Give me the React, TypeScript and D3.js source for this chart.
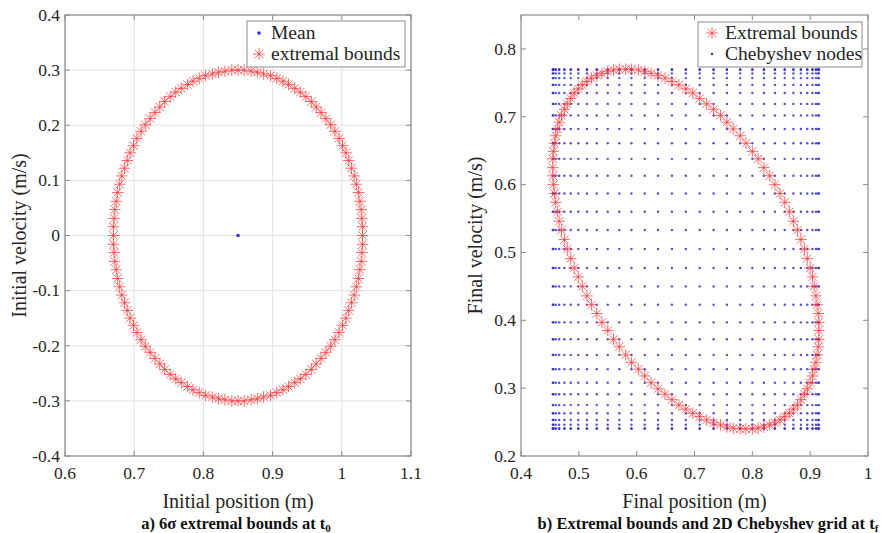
import React from "react";
import * as d3 from "d3";

// ---------- DATA ----------
const leftXTicks = [0.6, 0.7, 0.8, 0.9, 1.0, 1.1];
const leftYTicks = [-0.4, -0.3, -0.2, -0.1, 0, 0.1, 0.2, 0.3, 0.4];
const rightXTicks = [0.4, 0.5, 0.6, 0.7, 0.8, 0.9, 1.0];
const rightYTicks = [0.2, 0.3, 0.4, 0.5, 0.6, 0.7, 0.8];

const meanPoint = [0.85, 0];

const initBoundX = [
  1.030, 1.030, 1.029, 1.028, 1.026, 1.024, 1.021, 1.018, 1.014, 1.010, 1.006, 1.001, 0.996, 0.990, 0.984, 0.977, 0.970, 0.963, 0.956, 0.948, 0.940, 0.932, 0.923, 0.915, 0.906, 0.897, 0.887, 0.878, 0.869, 0.859,
  0.850, 0.841, 0.831, 0.822, 0.813, 0.803, 0.794, 0.785, 0.777, 0.768, 0.760, 0.752, 0.744, 0.737, 0.730, 0.723, 0.716, 0.710, 0.704, 0.699, 0.694, 0.690, 0.686, 0.682, 0.679, 0.676, 0.674, 0.672, 0.671, 0.670,
  0.670, 0.670, 0.671, 0.672, 0.674, 0.676, 0.679, 0.682, 0.686, 0.690, 0.694, 0.699, 0.704, 0.710, 0.716, 0.723, 0.730, 0.737, 0.744, 0.752, 0.760, 0.768, 0.777, 0.785, 0.794, 0.803, 0.813, 0.822, 0.831, 0.841,
  0.850, 0.859, 0.869, 0.878, 0.887, 0.897, 0.906, 0.915, 0.923, 0.932, 0.940, 0.948, 0.956, 0.963, 0.970, 0.977, 0.984, 0.990, 0.996, 1.001, 1.006, 1.010, 1.014, 1.018, 1.021, 1.024, 1.026, 1.028, 1.029, 1.030,
];
const initBoundY = [
  0, 0.016, 0.031, 0.047, 0.062, 0.078, 0.093, 0.108, 0.122, 0.136, 0.150, 0.163, 0.176, 0.189, 0.201, 0.212, 0.223, 0.233, 0.243, 0.252, 0.260, 0.267, 0.274, 0.280, 0.285, 0.290, 0.293, 0.296, 0.298, 0.300,
  0.300, 0.300, 0.298, 0.296, 0.293, 0.290, 0.285, 0.280, 0.274, 0.267, 0.260, 0.252, 0.243, 0.233, 0.223, 0.212, 0.201, 0.189, 0.176, 0.163, 0.150, 0.136, 0.122, 0.108, 0.093, 0.078, 0.062, 0.047, 0.031, 0.016,
  0, -0.016, -0.031, -0.047, -0.062, -0.078, -0.093, -0.108, -0.122, -0.136, -0.150, -0.163, -0.176, -0.189, -0.201, -0.212, -0.223, -0.233, -0.243, -0.252, -0.260, -0.267, -0.274, -0.280, -0.285, -0.290, -0.293, -0.296, -0.298, -0.300,
  -0.300, -0.300, -0.298, -0.296, -0.293, -0.290, -0.285, -0.280, -0.274, -0.267, -0.260, -0.252, -0.243, -0.233, -0.223, -0.212, -0.201, -0.189, -0.176, -0.163, -0.150, -0.136, -0.122, -0.108, -0.093, -0.078, -0.062, -0.047, -0.031, -0.016,
];

const finalBoundX = [
  0.915, 0.915, 0.914, 0.912, 0.910, 0.907, 0.904, 0.900, 0.895, 0.890, 0.884, 0.878, 0.871, 0.864, 0.856, 0.848, 0.839, 0.830, 0.820, 0.810, 0.800, 0.789, 0.779, 0.767, 0.756, 0.745, 0.733, 0.721, 0.709, 0.697,
  0.685, 0.673, 0.661, 0.649, 0.637, 0.625, 0.614, 0.603, 0.591, 0.581, 0.570, 0.560, 0.550, 0.540, 0.531, 0.522, 0.514, 0.506, 0.499, 0.492, 0.486, 0.480, 0.475, 0.470, 0.466, 0.463, 0.460, 0.458, 0.456, 0.455,
  0.455, 0.455, 0.456, 0.458, 0.460, 0.463, 0.466, 0.470, 0.475, 0.480, 0.486, 0.492, 0.499, 0.506, 0.514, 0.522, 0.531, 0.540, 0.550, 0.560, 0.570, 0.581, 0.591, 0.603, 0.614, 0.625, 0.637, 0.649, 0.661, 0.673,
  0.685, 0.697, 0.709, 0.721, 0.733, 0.745, 0.756, 0.767, 0.779, 0.789, 0.800, 0.810, 0.820, 0.830, 0.839, 0.848, 0.856, 0.864, 0.871, 0.878, 0.884, 0.890, 0.895, 0.900, 0.904, 0.907, 0.910, 0.912, 0.914, 0.915,
];
const finalBoundY = [
  0.385, 0.397, 0.410, 0.423, 0.436, 0.450, 0.464, 0.477, 0.491,
  0.505, 0.519, 0.533, 0.546, 0.560, 0.574, 0.587, 0.600, 0.613, 0.625, 0.638, 0.649, 0.661, 0.672, 0.682, 0.692, 0.702, 0.711, 0.719, 0.727, 0.735, 0.741, 0.747, 0.752, 0.757, 0.761, 0.764, 0.767, 0.769, 0.770,
  0.770, 0.770, 0.769, 0.767, 0.764, 0.761, 0.757, 0.752, 0.747, 0.741, 0.735, 0.727, 0.719, 0.711, 0.702, 0.692, 0.682, 0.672, 0.661, 0.649, 0.638, 0.625, 0.613, 0.600, 0.587, 0.574, 0.560, 0.546, 0.533, 0.519,
  0.505, 0.491, 0.477, 0.464, 0.450, 0.436, 0.423, 0.410, 0.397, 0.385, 0.372, 0.361, 0.349, 0.338, 0.328, 0.318, 0.308, 0.299, 0.291, 0.283, 0.275, 0.269, 0.263, 0.258, 0.253, 0.249, 0.246, 0.243, 0.241, 0.240,
  0.240, 0.240, 0.241, 0.243, 0.246, 0.249, 0.253, 0.258, 0.263, 0.269, 0.275, 0.283, 0.291, 0.299, 0.308, 0.318, 0.328, 0.338, 0.349, 0.361, 0.372,
];

const chebNodesX = [0.455, 0.456, 0.460, 0.466, 0.475, 0.486, 0.499, 0.514, 0.531, 0.550, 0.570, 0.591, 0.614, 0.637, 0.661, 0.685, 0.709, 0.733, 0.756, 0.779, 0.800, 0.820, 0.839, 0.856, 0.871, 0.884, 0.895, 0.904, 0.910, 0.914, 0.915];
const chebNodesY = [0.240, 0.241, 0.246, 0.253, 0.263, 0.275, 0.291, 0.308, 0.328, 0.349, 0.372, 0.397, 0.423, 0.450, 0.477, 0.505, 0.533, 0.560, 0.587, 0.613, 0.638, 0.661, 0.682, 0.702, 0.719, 0.735, 0.747, 0.757, 0.764, 0.769, 0.770];

// ---------- STYLE ----------
const SERIF = "'Liberation Serif', 'Times New Roman', serif";
const RED = "#ff3030";
const BLUE = "#3030c8";
const FRAME = "#8c8c8c";
const TEXT = "#262626";

const fmt = (v: number) => String(+v.toFixed(2));

function Star({ x, y, r = 5.8 }: { x: number; y: number; r?: number }) {
  const d = r * 0.72;
  return (
    <path
      d={`M${x - r},${y}H${x + r}M${x},${y - r}V${y + r}M${x - d},${y - d}L${x + d},${y + d}M${x - d},${y + d}L${x + d},${y - d}`}
      stroke={RED}
      strokeWidth={0.8}
      strokeOpacity={0.9}
      fill="none"
    />
  );
}

type PanelProps = {
  x0: number; x1: number; y0: number; y1: number;
  xDomain: [number, number]; yDomain: [number, number];
  xTicks: number[]; yTicks: number[];
  grid: boolean; xLabel: string; yLabel: string;
  children: (sx: d3.ScaleLinear<number, number>, sy: d3.ScaleLinear<number, number>) => React.ReactNode;
};

function Panel(p: PanelProps) {
  const sx = d3.scaleLinear().domain(p.xDomain).range([p.x0, p.x1]);
  const sy = d3.scaleLinear().domain(p.yDomain).range([p.y1, p.y0]);
  const tl = 5;
  const cx = (p.x0 + p.x1) / 2;
  const cy = (p.y0 + p.y1) / 2;
  return (
    <g>
      {p.grid && (
        <g stroke="#e3e3e3" strokeWidth={1}>
          {p.xTicks.map((t) => (
            <line key={"gx" + t} x1={sx(t)} x2={sx(t)} y1={p.y0} y2={p.y1} />
          ))}
          {p.yTicks.map((t) => (
            <line key={"gy" + t} x1={p.x0} x2={p.x1} y1={sy(t)} y2={sy(t)} />
          ))}
        </g>
      )}
      {p.children(sx, sy)}
      <rect x={p.x0} y={p.y0} width={p.x1 - p.x0} height={p.y1 - p.y0} fill="none" stroke={FRAME} strokeWidth={1.2} />
      <g stroke={FRAME} strokeWidth={1}>
        {p.xTicks.map((t) => (
          <g key={"tx" + t}>
            <line x1={sx(t)} x2={sx(t)} y1={p.y1} y2={p.y1 - tl} />
            <line x1={sx(t)} x2={sx(t)} y1={p.y0} y2={p.y0 + tl} />
          </g>
        ))}
        {p.yTicks.map((t) => (
          <g key={"ty" + t}>
            <line x1={p.x0} x2={p.x0 + tl} y1={sy(t)} y2={sy(t)} />
            <line x1={p.x1} x2={p.x1 - tl} y1={sy(t)} y2={sy(t)} />
          </g>
        ))}
      </g>
      <g fontFamily={SERIF} fontSize={17.5} fill={TEXT}>
        {p.xTicks.map((t) => (
          <text key={"lx" + t} x={sx(t)} y={p.y1 + 23} textAnchor="middle">{fmt(t)}</text>
        ))}
        {p.yTicks.map((t) => (
          <text key={"ly" + t} x={p.x0 - 5} y={sy(t)} dy="0.33em" textAnchor="end">{fmt(t)}</text>
        ))}
      </g>
      <text x={cx} y={p.y1 + 52} textAnchor="middle" fontFamily={SERIF} fontSize={20} fill={TEXT}>{p.xLabel}</text>
      <text transform={`translate(${p.x0 - 39},${cy}) rotate(-90)`} textAnchor="middle" fontFamily={SERIF} fontSize={20} fill={TEXT}>{p.yLabel}</text>
    </g>
  );
}

export default function App() {
  const chebGrid: [number, number][] = [];
  chebNodesX.forEach((x) => chebNodesY.forEach((y) => chebGrid.push([x, y])));
  return (
    <svg width={881} height={533} style={{ display: "block", position: "absolute", left: 0, top: 0, background: "#fff" }}>
      <rect width={881} height={533} fill="#fff" />
      <Panel
        x0={65} x1={411} y0={15} y1={456}
        xDomain={[0.6, 1.1]} yDomain={[-0.4, 0.4]}
        xTicks={leftXTicks} yTicks={leftYTicks} grid={true}
        xLabel="Initial position (m)" yLabel="Initial velocity (m/s)"
      >
        {(sx, sy) => (
          <g>
            {initBoundX.map((x, i) => (
              <Star key={i} x={sx(x)} y={sy(initBoundY[i])} />
            ))}
            <circle cx={sx(meanPoint[0])} cy={sy(meanPoint[1])} r={1.8} fill={BLUE} />
          </g>
        )}
      </Panel>
      <Panel
        x0={521} x1={868} y0={15} y1={456}
        xDomain={[0.4, 1.0]} yDomain={[0.2, 0.85]}
        xTicks={rightXTicks} yTicks={rightYTicks} grid={false}
        xLabel="Final position (m)" yLabel="Final velocity (m/s)"
      >
        {(sx, sy) => (
          <g>
            {chebGrid.map(([x, y], i) => (
              <circle key={"c" + i} cx={sx(x)} cy={sy(y)} r={1.2} fill={BLUE} opacity={0.85} />
            ))}
            {finalBoundX.map((x, i) => (
              <Star key={i} x={sx(x)} y={sy(finalBoundY[i])} />
            ))}
          </g>
        )}
      </Panel>

      {/* legends */}
      <g fontFamily={SERIF} fontSize={19.5} fill={TEXT}>
        <rect x={247} y={21} width={158} height={46} fill="#fff" stroke={FRAME} strokeWidth={1} />
        <circle cx={259} cy={33} r={1.8} fill={BLUE} />
        <text x={271} y={33} dy="0.33em">Mean</text>
        <Star x={259} y={54} />
        <text x={271} y={54} dy="0.33em">extremal bounds</text>

        <rect x={698} y={22} width={164} height={45} fill="#fff" stroke={FRAME} strokeWidth={1} />
        <Star x={712} y={33} />
        <text x={725} y={33} dy="0.33em">Extremal bounds</text>
        <circle cx={712} cy={54} r={1.2} fill={BLUE} />
        <text x={725} y={54} dy="0.33em">Chebyshev nodes</text>
      </g>

      {/* captions */}
      <g fontFamily={SERIF} fontSize={16.5} fontWeight="bold" fill="#111" textAnchor="middle">
        <text x={236} y={529}>
          a) 6σ extremal bounds at t<tspan fontSize={11} dy={3}>0</tspan>
        </text>
        <text x={708} y={529}>
          b) Extremal bounds and 2D Chebyshev grid at t<tspan fontSize={11} dy={3}>f</tspan>
        </text>
      </g>
    </svg>
  );
}
